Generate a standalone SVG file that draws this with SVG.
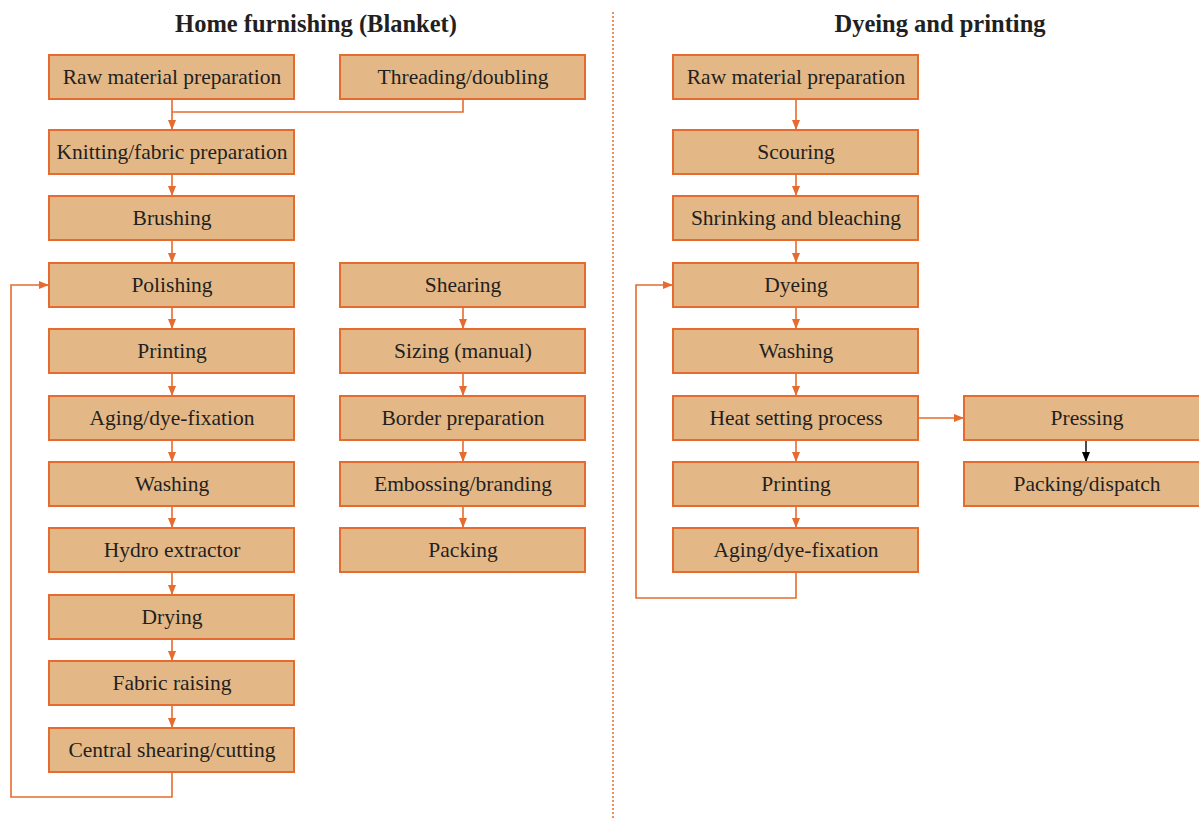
<svg xmlns="http://www.w3.org/2000/svg" width="1199" height="818" viewBox="0 0 1199 818">
<style>
.b{fill:#E4B886;stroke:#E66B2E;stroke-width:2}
.t{font-family:"Liberation Serif",serif;font-size:21.5px;fill:#231F20;text-anchor:middle}
.h{font-family:"Liberation Serif",serif;font-size:24.5px;font-weight:bold;fill:#231F20;text-anchor:middle}
.c{fill:none;stroke:#E66B2E;stroke-width:1.6}
.k{fill:none;stroke:#000;stroke-width:1.4}
</style>
<defs>
<marker id="a" markerWidth="10" markerHeight="10" refX="9" refY="5" orient="auto" markerUnits="userSpaceOnUse"><path d="M0,1 L10,5 L0,9 Z" fill="#E66B2E"/></marker>
<marker id="ak" markerWidth="10" markerHeight="10" refX="9" refY="5" orient="auto" markerUnits="userSpaceOnUse"><path d="M0,1 L10,5 L0,9 Z" fill="#000"/></marker>
</defs>
<text class="h" x="316" y="32">Home furnishing (Blanket)</text>
<text class="h" x="940" y="32">Dyeing and printing</text>
<line x1="613" y1="12" x2="613" y2="818" stroke="#E66B2E" stroke-width="1.5" stroke-dasharray="2,2"/>
<g id="connectors">
<path class="c" d="M172,99 V129" marker-end="url(#a)"/>
<path class="c" d="M463,99 V112 H172"/>
<path class="c" d="M172,174 V195" marker-end="url(#a)"/>
<path class="c" d="M172,240 V262" marker-end="url(#a)"/>
<path class="c" d="M172,307 V328" marker-end="url(#a)"/>
<path class="c" d="M172,373 V395" marker-end="url(#a)"/>
<path class="c" d="M172,440 V461" marker-end="url(#a)"/>
<path class="c" d="M172,506 V527" marker-end="url(#a)"/>
<path class="c" d="M172,572 V594" marker-end="url(#a)"/>
<path class="c" d="M172,639 V660" marker-end="url(#a)"/>
<path class="c" d="M172,705 V727" marker-end="url(#a)"/>
<path class="c" d="M172,772 V797 H11 V285 H48" marker-end="url(#a)"/>
<path class="c" d="M463,307 V328" marker-end="url(#a)"/>
<path class="c" d="M463,373 V395" marker-end="url(#a)"/>
<path class="c" d="M463,440 V461" marker-end="url(#a)"/>
<path class="c" d="M463,506 V527" marker-end="url(#a)"/>
<path class="c" d="M796,99 V129" marker-end="url(#a)"/>
<path class="c" d="M796,174 V195" marker-end="url(#a)"/>
<path class="c" d="M796,240 V262" marker-end="url(#a)"/>
<path class="c" d="M796,307 V328" marker-end="url(#a)"/>
<path class="c" d="M796,373 V395" marker-end="url(#a)"/>
<path class="c" d="M796,440 V461" marker-end="url(#a)"/>
<path class="c" d="M796,506 V527" marker-end="url(#a)"/>
<path class="c" d="M796,572 V598 H636 V285 H672" marker-end="url(#a)"/>
<path class="c" d="M918,418 H963" marker-end="url(#a)"/>
<path class="k" d="M1086,440 V461" marker-end="url(#ak)"/>
</g>
<g id="n1"><rect class="b" x="49" y="55" width="245" height="44"/><text class="t" x="172" y="84">Raw material preparation</text></g>
<g id="n2"><rect class="b" x="340" y="55" width="245" height="44"/><text class="t" x="463" y="84">Threading/doubling</text></g>
<g id="n3"><rect class="b" x="49" y="130" width="245" height="44"/><text class="t" x="172" y="159">Knitting/fabric preparation</text></g>
<g id="n4"><rect class="b" x="49" y="196" width="245" height="44"/><text class="t" x="172" y="225">Brushing</text></g>
<g id="n5"><rect class="b" x="49" y="263" width="245" height="44"/><text class="t" x="172" y="292">Polishing</text></g>
<g id="n6"><rect class="b" x="49" y="329" width="245" height="44"/><text class="t" x="172" y="358">Printing</text></g>
<g id="n7"><rect class="b" x="49" y="396" width="245" height="44"/><text class="t" x="172" y="425">Aging/dye-fixation</text></g>
<g id="n8"><rect class="b" x="49" y="462" width="245" height="44"/><text class="t" x="172" y="491">Washing</text></g>
<g id="n9"><rect class="b" x="49" y="528" width="245" height="44"/><text class="t" x="172" y="557">Hydro extractor</text></g>
<g id="n10"><rect class="b" x="49" y="595" width="245" height="44"/><text class="t" x="172" y="624">Drying</text></g>
<g id="n11"><rect class="b" x="49" y="661" width="245" height="44"/><text class="t" x="172" y="690">Fabric raising</text></g>
<g id="n12"><rect class="b" x="49" y="728" width="245" height="44"/><text class="t" x="172" y="757">Central shearing/cutting</text></g>
<g id="n13"><rect class="b" x="340" y="263" width="245" height="44"/><text class="t" x="463" y="292">Shearing</text></g>
<g id="n14"><rect class="b" x="340" y="329" width="245" height="44"/><text class="t" x="463" y="358">Sizing (manual)</text></g>
<g id="n15"><rect class="b" x="340" y="396" width="245" height="44"/><text class="t" x="463" y="425">Border preparation</text></g>
<g id="n16"><rect class="b" x="340" y="462" width="245" height="44"/><text class="t" x="463" y="491">Embossing/branding</text></g>
<g id="n17"><rect class="b" x="340" y="528" width="245" height="44"/><text class="t" x="463" y="557">Packing</text></g>
<g id="r1"><rect class="b" x="673" y="55" width="245" height="44"/><text class="t" x="796" y="84">Raw material preparation</text></g>
<g id="r2"><rect class="b" x="673" y="130" width="245" height="44"/><text class="t" x="796" y="159">Scouring</text></g>
<g id="r3"><rect class="b" x="673" y="196" width="245" height="44"/><text class="t" x="796" y="225">Shrinking and bleaching</text></g>
<g id="r4"><rect class="b" x="673" y="263" width="245" height="44"/><text class="t" x="796" y="292">Dyeing</text></g>
<g id="r5"><rect class="b" x="673" y="329" width="245" height="44"/><text class="t" x="796" y="358">Washing</text></g>
<g id="r6"><rect class="b" x="673" y="396" width="245" height="44"/><text class="t" x="796" y="425">Heat setting process</text></g>
<g id="r7"><rect class="b" x="673" y="462" width="245" height="44"/><text class="t" x="796" y="491">Printing</text></g>
<g id="r8"><rect class="b" x="673" y="528" width="245" height="44"/><text class="t" x="796" y="557">Aging/dye-fixation</text></g>
<g id="r9"><rect class="b" x="964" y="396" width="245" height="44"/><text class="t" x="1087" y="425">Pressing</text></g>
<g id="r10"><rect class="b" x="964" y="462" width="245" height="44"/><text class="t" x="1087" y="491">Packing/dispatch</text></g>
</svg>
